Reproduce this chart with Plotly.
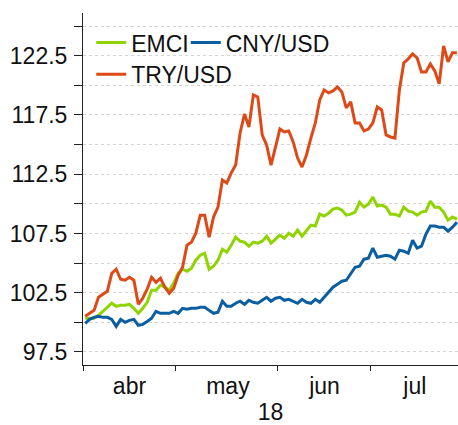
import pandas as pd
import plotly.graph_objects as go

# ---- data (business days, Apr 2 2018 - Jul 27 2018) ----
dates = pd.bdate_range("2018-04-02", "2018-07-27") + pd.Timedelta(hours=12)

emci = [100.34, 100.34, 100.34, 100.59, 100.93, 101.27, 101.61, 101.35, 101.44, 101.44,
        101.52, 101.18, 100.76, 101.18, 101.69, 102.70, 102.70, 103.13, 102.96, 102.70,
        103.30, 104.14, 104.48, 104.31, 104.56, 105.24, 105.66, 105.83, 104.48, 104.73,
        105.24, 106.17, 105.92, 106.51, 107.19, 106.85, 106.76, 106.42, 106.76, 106.68,
        106.85, 107.27, 106.68, 107.02, 107.35, 107.10, 107.52, 107.27, 107.78, 107.27,
        107.78, 108.20, 108.12, 109.13, 108.96, 109.21, 109.55, 109.64, 109.47, 109.04,
        109.13, 109.30, 110.14, 109.72, 109.97, 110.57, 109.81, 109.89, 109.72, 109.13,
        109.13, 108.96, 109.72, 109.38, 109.30, 109.04, 109.30, 109.38, 110.23, 109.72,
        109.72, 109.30, 108.62, 108.88, 108.71]

cny = [99.92, 100.25, 100.42, 100.51, 100.42, 100.42, 100.25, 99.66, 100.25, 100.00,
       100.17, 100.25, 99.75, 99.83, 100.08, 100.34, 100.93, 100.76, 100.76, 100.76,
       100.93, 100.76, 101.18, 101.10, 101.18, 101.18, 101.27, 101.27, 101.01, 100.76,
       100.85, 101.78, 101.35, 101.35, 101.61, 101.78, 101.52, 101.86, 101.69, 101.61,
       101.86, 102.11, 101.78, 102.03, 102.11, 101.86, 101.94, 101.78, 101.61, 101.94,
       101.69, 101.61, 101.94, 101.69, 102.11, 102.54, 102.96, 103.21, 103.47, 103.55,
       104.14, 104.65, 104.73, 105.33, 105.41, 106.26, 105.49, 105.58, 105.66, 105.58,
       105.33, 106.09, 106.00, 105.83, 106.93, 106.26, 106.42, 107.44, 108.12, 108.12,
       108.03, 108.03, 107.69, 108.03, 108.45]

tryusd = [100.51, 100.76, 101.01, 102.11, 102.37, 102.62, 104.14, 104.48, 103.63, 103.55,
          103.80, 103.55, 101.52, 102.03, 102.79, 103.80, 103.38, 103.72, 102.96, 102.45,
          102.87, 103.97, 104.65, 106.51, 106.76, 107.52, 109.04, 109.04, 107.19, 108.88,
          109.72, 112.00, 111.75, 112.60, 113.27, 115.98, 117.58, 116.48, 119.19, 119.02,
          115.81, 114.96, 113.27, 114.71, 116.31, 116.06, 116.15, 115.22, 113.86, 113.10,
          114.12, 115.55, 116.82, 118.77, 119.61, 119.36, 119.53, 119.86, 119.44, 118.09,
          118.60, 116.82, 116.82, 116.15, 116.31, 116.82, 118.17, 117.92, 115.81, 115.64,
          115.55, 119.61, 121.89, 122.23, 122.65, 122.32, 121.13, 121.13, 121.81, 121.22,
          120.12, 123.33, 121.98, 122.74, 122.74]

series_names = ["EMCI", "CNY/USD", "TRY/USD"]
series_colors = ["#8fd400", "#0b5ea0", "#de4a17"]

# axis ticks / labels
y_tickvals = [97.5, 100, 102.5, 105, 107.5, 110, 112.5, 115, 117.5, 120, 122.5, 125]
y_ticktext = ["97.5", "", "102.5", "", "107.5", "", "112.5", "", "117.5", "", "122.5", ""]
month_bounds = ["2018-04-02", "2018-05-01", "2018-06-01", "2018-07-02"]
month_label_pos = ["2018-04-16 12:00", "2018-05-16 18:00", "2018-06-15 14:00", "2018-07-16 00:00"]
month_labels = ["abr", "may", "jun", "jul"]
year_label = "18"

FONT = "Liberation Sans, Arial, sans-serif"
FS = 23

fig = go.Figure()
for name, vals, col, lg in zip(series_names, [emci, cny, tryusd], series_colors,
                               ["legend", "legend2", "legend3"]):
    fig.add_trace(go.Scatter(x=dates, y=vals, mode="lines", name=name,
                             line=dict(color=col, width=3), legend=lg))

leg_common = dict(orientation="h", xanchor="left", yanchor="top",
                  bgcolor="rgba(0,0,0,0)", font=dict(size=FS))

fig.update_layout(
    width=458, height=425,
    margin=dict(l=83, r=0, t=13, b=60, autoexpand=False),
    paper_bgcolor="white", plot_bgcolor="white",
    font=dict(family=FONT, size=FS, color="#111111"),
    showlegend=True,
    legend=dict(x=0.022, y=0.977, **leg_common),
    legend2=dict(x=0.274, y=0.977, **leg_common),
    legend3=dict(x=0.022, y=0.887, **leg_common),
)

fig.update_xaxes(
    type="date", automargin=False,
    range=["2018-04-02", "2018-07-27 18:00"],
    rangebreaks=[dict(bounds=["sat", "mon"])],
    tickmode="array", tickvals=month_label_pos, ticktext=month_labels,
    ticks="", showgrid=False, zeroline=False,
    showline=True, linecolor="#222222", linewidth=1,
    minor=dict(tickmode="array", tickvals=month_bounds, ticks="outside",
               ticklen=5, tickwidth=1, tickcolor="#222222", showgrid=False),
    tickfont=dict(size=FS),
    title=dict(text=year_label, font=dict(size=FS), standoff=8),
)

fig.update_yaxes(
    range=[96.4, 126.1], automargin=False,
    tickmode="array", tickvals=y_tickvals, ticktext=y_ticktext,
    ticks="outside", ticklen=8, tickwidth=1, tickcolor="#222222",
    ticklabelstandoff=2,
    showline=True, linecolor="#222222", linewidth=1,
    showgrid=True, gridcolor="#d4d4d4", gridwidth=1, griddash="dot",
    zeroline=False, tickfont=dict(size=FS),
)

fig.write_html("out.html", config={"displayModeBar": False},
               post_script="document.body.style.margin='0';")
